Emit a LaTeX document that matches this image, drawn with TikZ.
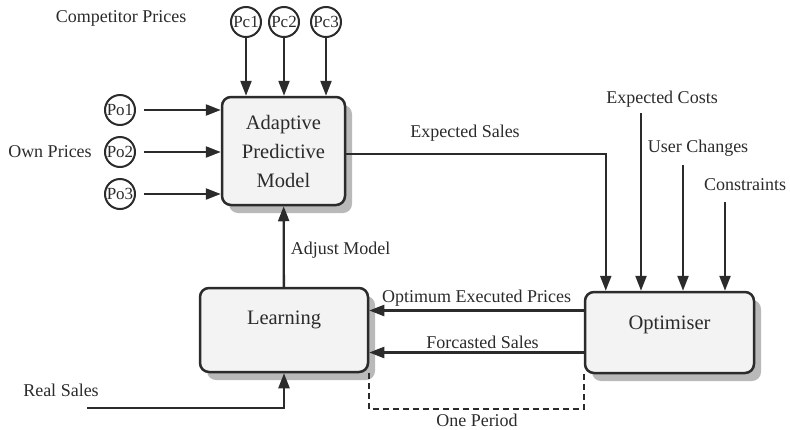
\documentclass[tikz,border=0pt]{standalone}
\usepackage{fontspec}
\setmainfont{Liberation Serif}
\usetikzlibrary{arrows.meta,shadows,calc}
\definecolor{ink}{HTML}{2B2B2B}
\definecolor{boxfill}{HTML}{F3F3F3}
\newcommand{\labfont}{\fontsize{18}{20}\selectfont}
\newcommand{\boxfont}{\fontsize{20.5}{29}\selectfont}

\begin{document}
\begin{tikzpicture}[x=1pt,y=-1pt,
    every node/.style={text=ink},
    block/.style={draw=ink,line width=2.5pt,rounded corners=9pt,fill=boxfill,
        drop shadow={shadow xshift=7pt,shadow yshift=-8pt,fill=gray!55,opacity=1},
        font=\boxfont,align=center},
    price/.style={draw=ink,circle,line width=2pt,minimum size=30pt,inner sep=0pt,
        font=\fontsize{17}{17}\selectfont},
    lbl/.style={font=\labfont,inner sep=1pt},
    flow/.style={draw=ink,line width=2.3pt,-{Triangle[length=15pt,width=11pt]}}]
        \useasboundingbox (0,0) rectangle (790,429);

        % main blocks
        \node (amodel) at (283.5,151) [block,minimum width=123pt,minimum height=108pt] {Adaptive\\Predictive\\Model};
        \node (learn) at (284,330) [block,minimum width=168pt,minimum height=84pt,text height=14pt,text depth=26pt] {Learning};
        \node (optim) at (669.5,332.5) [block,minimum width=169pt,minimum height=81pt,text height=14pt,text depth=21pt] {Optimiser};

        % price inputs
        \node (pc1) at (246,22) [price] {Pc1};
        \node (pc2) at (284,22) [price] {Pc2};
        \node (pc3) at (326,22) [price] {Pc3};
        \node (po1) at (120,110) [price] {Po1};
        \node (po2) at (120,152) [price] {Po2};
        \node (po3) at (120,194) [price] {Po3};

        \node (complbl) at (121,18) [lbl] {Competitor Prices};
        \node (ownlbl) at (50,152) [lbl] {Own Prices};

        % optimiser inputs
        \node (costlbl) at (662,99) [lbl] {Expected Costs};
        \node (userlbl) at (698,148) [lbl] {User Changes};
        \node (conslbl) at (745,185) [lbl] {Constraints};
        \coordinate (cost) at (641,113);
        \coordinate (user) at (683,165);
        \coordinate (cons) at (725,202);

        \node (reallbl) at (61,390) [lbl] {Real Sales};
        \coordinate (real) at (87,408);

        \draw[flow] (pc1) -- (pc1 |- amodel.north);
        \draw[flow] (pc2) -- (pc2 |- amodel.north);
        \draw[flow] (pc3) -- (pc3 |- amodel.north);

        \draw[flow] ([xshift=8pt]po1.east) -- (po1 -| amodel.west);
        \draw[flow] ([xshift=8pt]po2.east) -- (po2 -| amodel.west);
        \draw[flow] ([xshift=8pt]po3.east) -- (po3 -| amodel.west);

        \draw[flow] ([yshift=-3pt]amodel.east) -| ($(optim.north west)+(22,0)$);
        \node (saleslbl) at (465,133) [lbl] {Expected Sales};

        \draw[flow] (cost) -- (cost |- optim.north);
        \draw[flow] (user) -- (user |- optim.north);
        \draw[flow] (cons) -- (cons |- optim.north);

        \draw[flow] (optim.west) ++(0,-22) coordinate (o1) -- (o1 -| learn.east)
            node[midway,above,lbl,yshift=2pt] {Optimum Executed Prices};
        \draw[flow] (optim.west) ++(0,20) coordinate (o2) -- (o2 -| learn.east)
            node[midway,above,lbl,xshift=6pt,yshift=2pt] {Forcasted Sales};

        \draw[flow] (learn) -- (amodel)
            node[midway,right,lbl,xshift=5pt,yshift=-4pt] {Adjust Model};
        \draw[flow] (real) -| (learn.south);

        % one period
        \draw[ink,line width=1.8pt,dash pattern=on 6pt off 4pt] (learn.south east) -- ++(0,36) -| (optim.south west);
        \node (period) at (477,420) [lbl] {One Period};
\end{tikzpicture}
\end{document}
